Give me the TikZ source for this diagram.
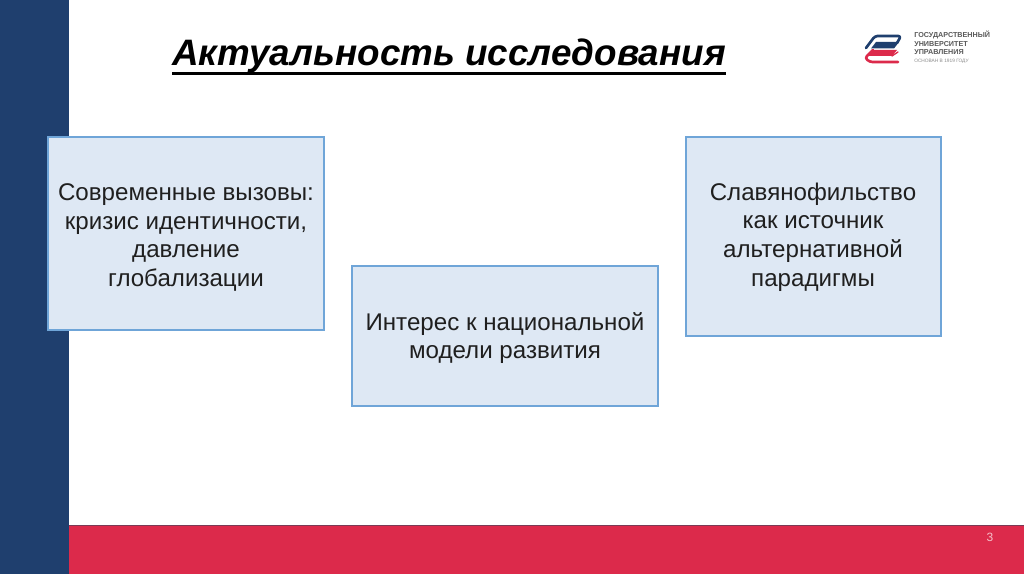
\documentclass[tikz,border=0pt]{standalone}
\usepackage{fontspec}
\setmainfont{Liberation Sans}
\newfontfamily\logofont{Liberation Sans}
\definecolor{navy}{HTML}{1F3F6E}
\definecolor{crim}{HTML}{DC2A4B}
\definecolor{boxfill}{HTML}{DEE8F4}
\definecolor{boxline}{HTML}{6FA5D8}
\definecolor{barline}{HTML}{7A3B55}
\tikzset{
 infobox/.style={draw=boxline,line width=2.2pt,fill=boxfill},
 boxtext/.style={inner sep=0pt,align=center,text=black!88,font=\fontsize{18.1}{21.6}\selectfont},
 logotext/.style={anchor=west,inner sep=0pt,font=\logofont\bfseries\fontsize{5.4}{6}\selectfont,text=black!65},
 logoline/.style={line width=2pt,line join=round,line cap=round,rounded corners=2pt}
}
\begin{document}
\begin{tikzpicture}[x=0.75pt,y=-0.75pt]
\useasboundingbox (0,0) rectangle (1024,574);
\fill[white] (0,0) rectangle (1024,574);
\fill[crim] (69,526) rectangle (1024,574);
\draw[barline,line width=0.8pt] (69,525.5) -- (1024,525.5);
\fill[navy] (0,0) rectangle (69,574);
\node[inner sep=0pt,anchor=base,font=\bfseries\itshape\fontsize{27.6}{32}\selectfont,text=black] (title) at (449,66) {Актуальность исследования};
\draw[black,line width=2pt] (172,73.5) -- (726,73.5);
\path[infobox] (48,137) rectangle (324,330);
\node[boxtext] (a) at (186,237.5) {Современные вызовы:\\кризис идентичности,\\давление\\глобализации};
\path[infobox] (352,266) rectangle (658,406);
\node[boxtext] (b) at (505,338) {Интерес к национальной\\модели развития};
\path[infobox] (686,137) rectangle (941,336);
\node[boxtext] (c) at (813,237) {Славянофильство\\как источник\\альтернативной\\парадигмы};
\node[inner sep=0pt,font=\fontsize{9}{10}\selectfont,text=white!70!crim] (num) at (990,537) {3};
% logo
\draw[navy,logoline] (866,48) -- (875,36) -- (901,36) -- (897,43);
\fill[navy] (871,48.5) -- (876,42) -- (899,42) -- (894,48.5) -- cycle;
\fill[crim] (868,56) -- (873,50) -- (897,50) -- (892,56) -- cycle;
\draw[crim,logoline] (873,50) -- (865,58) -- (870,62) -- (898,62);
\draw[crim,line width=1pt,line cap=round] (892,56) -- (898,52);
\node[logotext] (l1) at (914,35) {ГОСУДАРСТВЕННЫЙ};
\node[logotext] (l2) at (914,44) {УНИВЕРСИТЕТ};
\node[logotext] (l3) at (914,52.5) {УПРАВЛЕНИЯ};
\node[logotext,font=\logofont\fontsize{3.6}{4}\selectfont,text=black!45] (l4) at (914,61) {ОСНОВАН В 1919 ГОДУ};
\end{tikzpicture}
\end{document}
